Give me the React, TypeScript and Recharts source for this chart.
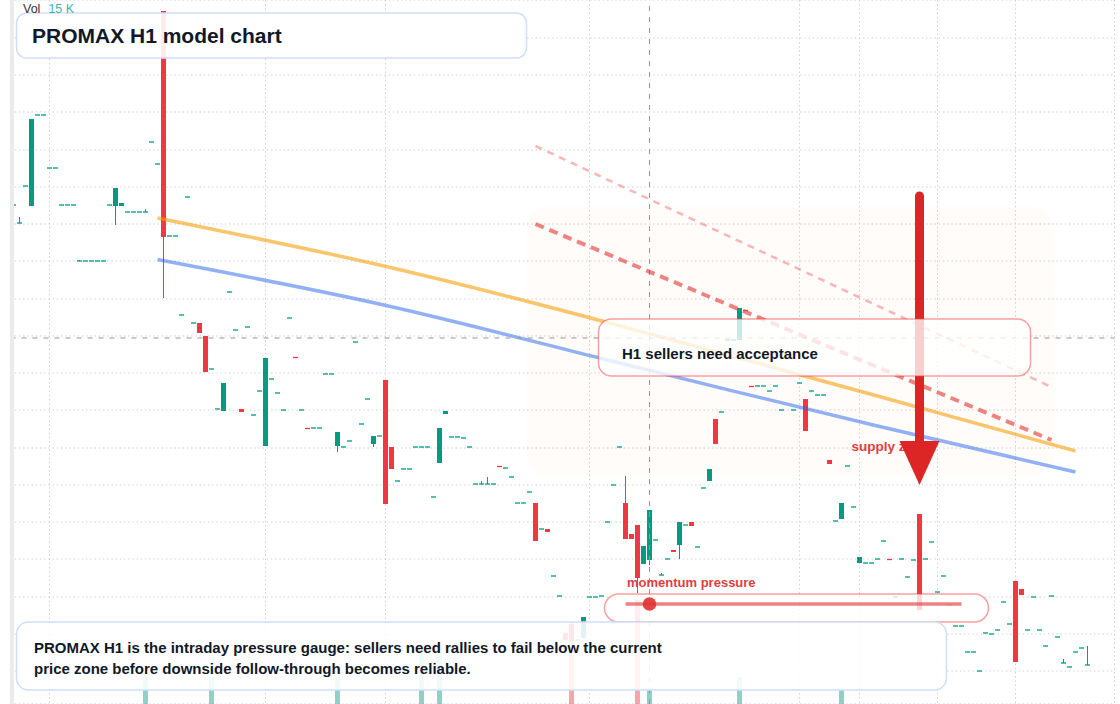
import React from "react";
import {
  ComposedChart, Bar, Line, XAxis, YAxis, CartesianGrid,
  ReferenceLine, ReferenceArea, ReferenceDot,
} from "recharts";

const UP = "#089981";
const DOWN = "#f23645";
const FONT = '"Liberation Sans", Arial, sans-serif';

// H1 candles, oldest first. null = no print in that slot
const open = [
  14.99, 14.81, 15.18, 14.98, 15.89, 15.89, 15.36, 15.36, 14.99, 14.99,
  14.99, 14.43, 14.43, 14.43, 14.43, 14.43, 14.99, 14.98, 14.98, 14.92,
  14.92, 14.92, 14.92, 15.62, 15.40, 16.93, 14.68, 14.68, 13.89, 15.07,
  13.81, 13.81, 13.68, 13.35, 12.95, 12.93, 14.12, 13.74, 12.95, 13.77,
  12.89, 13.13, 12.58, 13.25, 13.11, 12.94, 13.86, 13.47, 12.94, 12.76,
  12.76, 12.76, 13.30, 13.30, 12.58, 12.57, 12.63, 13.62, 12.80, 13.05,
  12.60, 12.68, 13.24, 12.57, 12.23, 12.35, 12.35, 12.57, 12.57, 12.57,
  12.07, 12.41, 12.90, 12.67, 12.67, 12.66, 12.57, 12.20, 12.20, 12.20,
  12.20, 12.38, 12.36, 12.27, 12.01, 12.01, 12.12, 12.01, 11.75, 11.75,
  11.28, 11.08, 10.71, 10.80, 10.64, 10.66, 11.07, 11.07, 11.08, 11.82,
  12.19, 12.57, 12.01, 11.70, 11.79, 11.40, 11.44, 11.64, 11.29, 11.45,
  11.54, 11.59, 11.79, 11.82, 11.57, 12.16, 12.23, 12.85, 12.92, 13.64,
  13.64, 13.64, 13.94, 13.18, 13.18, 13.18, 13.13, 13.18, 12.94, null,
  12.94, 13.21, 13.05, 13.13, 13.09, 13.09, 12.44, 11.83, 11.85, 12.38,
  11.97, 11.41, 11.41, 11.41, 11.45, 11.63, 11.45, 11.07, 11.45, 11.27,
  11.44, 11.90, 11.45, 11.62, 11.12, 11.28, 10.99, 10.78, 10.78, 10.52,
  10.52, 10.33, 10.71, 10.70, 10.74, 11.02, 10.80, 11.23, 11.15, 10.74,
  11.07, 10.74, 10.58, 11.08, 10.67, 10.41, 10.37, 10.52, 10.56, 10.39,
];
const high = [
  14.99, 14.87, 15.18, 15.85, 15.89, 15.89, 15.36, 15.36, 14.99, 14.99,
  14.99, 14.44, 14.43, 14.43, 14.43, 14.43, 14.99, 15.16, 15.01, 14.92,
  14.92, 14.92, 14.95, 15.62, 15.40, 16.93, 14.68, 14.68, 13.89, 15.07,
  13.81, 13.81, 13.68, 13.35, 12.95, 13.21, 14.12, 13.74, 12.95, 13.77,
  12.89, 13.13, 13.46, 13.25, 13.11, 12.94, 13.86, 13.47, 12.94, 12.76,
  12.76, 12.76, 13.30, 13.30, 12.72, 12.57, 12.63, 13.62, 12.80, 13.05,
  12.68, 12.68, 13.24, 12.57, 12.23, 12.35, 12.35, 12.57, 12.57, 12.57,
  12.07, 12.76, 12.93, 12.67, 12.67, 12.66, 12.57, 12.20, 12.23, 12.27,
  12.20, 12.38, 12.36, 12.27, 12.01, 12.01, 12.12, 12.01, 11.75, 11.75,
  11.28, 11.08, 10.71, 10.80, 10.64, 10.87, 11.07, 11.07, 11.08, 11.82,
  12.19, 12.57, 12.28, 11.70, 11.79, 11.58, 11.94, 11.64, 11.31, 11.45,
  11.54, 11.82, 11.79, 11.82, 11.57, 12.16, 12.35, 12.85, 12.92, 13.64,
  13.64, 13.96, 13.94, 13.18, 13.18, 13.18, 13.13, 13.18, 12.94, null,
  12.94, 13.21, 13.05, 13.13, 13.09, 13.09, 12.44, 11.83, 12.01, 12.38,
  11.97, 11.47, 11.41, 11.41, 11.45, 11.63, 11.45, 11.07, 11.45, 11.27,
  11.44, 11.90, 11.45, 11.62, 11.12, 11.28, 10.99, 10.78, 10.78, 10.52,
  10.52, 10.33, 10.71, 10.70, 10.74, 11.02, 10.80, 11.23, 11.15, 10.74,
  11.07, 10.74, 10.58, 11.08, 10.67, 10.45, 10.37, 10.52, 10.56, 10.58,
];
const low = [
  14.99, 14.81, 15.18, 14.98, 15.89, 15.89, 15.36, 15.36, 14.99, 14.99,
  14.99, 14.43, 14.43, 14.43, 14.43, 14.43, 14.99, 14.79, 14.98, 14.92,
  14.92, 14.92, 14.92, 15.62, 15.40, 14.06, 14.68, 14.68, 13.89, 15.07,
  13.81, 13.71, 13.32, 13.35, 12.95, 12.93, 14.12, 13.74, 12.92, 13.77,
  12.89, 13.13, 12.58, 13.25, 13.11, 12.94, 13.86, 13.46, 12.94, 12.75,
  12.76, 12.76, 13.30, 13.30, 12.52, 12.57, 12.63, 13.62, 12.80, 13.05,
  12.57, 12.68, 12.00, 12.35, 12.23, 12.35, 12.35, 12.57, 12.57, 12.57,
  12.07, 12.41, 12.90, 12.67, 12.67, 12.66, 12.57, 12.20, 12.20, 12.20,
  12.20, 12.37, 12.36, 12.27, 12.01, 12.01, 12.12, 11.63, 11.75, 11.72,
  11.28, 11.08, 10.64, 10.63, 10.64, 10.66, 11.07, 11.07, 11.08, 11.82,
  12.19, 12.57, 11.65, 11.65, 11.11, 11.40, 11.39, 11.64, 11.29, 11.45,
  11.52, 11.45, 11.79, 11.78, 11.57, 12.16, 12.23, 12.60, 12.92, 13.64,
  13.64, 13.64, 13.93, 13.17, 13.18, 13.18, 13.13, 13.18, 12.94, null,
  12.94, 13.21, 12.73, 13.13, 13.09, 13.09, 12.40, 11.83, 11.85, 12.38,
  11.97, 11.41, 11.41, 11.41, 11.45, 11.63, 11.44, 11.07, 11.45, 11.27,
  11.44, 10.94, 11.45, 11.62, 11.12, 11.28, 10.99, 10.78, 10.78, 10.52,
  10.52, 10.33, 10.71, 10.70, 10.74, 11.02, 10.80, 10.42, 11.09, 10.74,
  11.07, 10.74, 10.58, 11.08, 10.67, 10.41, 10.37, 10.52, 10.56, 10.39,
];
const close = [
  14.99, 14.81, 15.18, 15.85, 15.89, 15.89, 15.36, 15.36, 14.99, 14.99,
  14.99, 14.43, 14.43, 14.43, 14.43, 14.43, 14.99, 15.16, 15.01, 14.92,
  14.92, 14.92, 14.92, 15.62, 15.40, 14.67, 14.68, 14.68, 13.89, 15.07,
  13.81, 13.71, 13.32, 13.35, 12.95, 13.21, 14.12, 13.74, 12.92, 13.77,
  12.89, 13.13, 13.46, 13.25, 13.11, 12.94, 13.86, 13.46, 12.94, 12.75,
  12.76, 12.76, 13.30, 13.30, 12.72, 12.57, 12.63, 13.62, 12.80, 13.05,
  12.68, 12.68, 12.00, 12.35, 12.23, 12.35, 12.35, 12.57, 12.57, 12.57,
  12.07, 12.76, 12.93, 12.67, 12.67, 12.66, 12.57, 12.20, 12.20, 12.20,
  12.20, 12.37, 12.36, 12.27, 12.01, 12.01, 12.12, 11.63, 11.75, 11.72,
  11.28, 11.08, 10.64, 10.63, 10.64, 10.87, 11.07, 11.07, 11.08, 11.82,
  12.19, 12.57, 11.65, 11.65, 11.26, 11.58, 11.94, 11.64, 11.29, 11.45,
  11.52, 11.82, 11.79, 11.78, 11.57, 12.16, 12.35, 12.60, 12.92, 13.64,
  13.64, 13.96, 13.93, 13.17, 13.18, 13.18, 13.13, 13.18, 12.94, null,
  12.94, 13.21, 12.73, 13.13, 13.09, 13.09, 12.40, 11.83, 12.01, 12.38,
  11.97, 11.47, 11.41, 11.41, 11.45, 11.63, 11.44, 11.07, 11.45, 11.27,
  11.44, 10.94, 11.45, 11.62, 11.12, 11.28, 10.99, 10.78, 10.78, 10.52,
  10.52, 10.33, 10.71, 10.70, 10.74, 11.02, 10.80, 10.42, 11.09, 10.74,
  11.07, 10.74, 10.58, 11.08, 10.67, 10.41, 10.37, 10.52, 10.56, 10.39,
];

// volume in K, only the bars tall enough to show in the pane
const volumeAt = [22, 33, 54, 68, 71, 93, 104, 106, 121, 138];
const volumeK = [32, 27, 27, 54, 51, 82, 104, 15, 27, 15];

// model lines (orange = fast, blue = slow), anchor points off the chart
const fastAt = [24, 61, 99, 144, 177];
const fastLine = [14.86, 14.39, 13.815, 13.08, 12.53];
const slowAt = [24, 61, 98, 144, 177];
const slowLine = [14.445, 14.0, 13.455, 12.78, 12.32];

const priceLevels = [
  17.03, 16.66, 16.29, 15.92, 15.54, 15.17, 14.8, 14.43, 14.05, 13.68,
  13.31, 12.94, 12.56, 12.19, 11.82, 11.45, 11.07, 10.7, 10.33,
];
const sessionBreaks = [6, 42, 62, 96, 131, 141, 154, 167];

const SLOTS = 184;
const CROSS_BAR = 106;
const CROSS_PRICE = 13.66;

const data = Array.from({ length: SLOTS }, (_, i) => {
  const has = i < open.length && open[i] != null;
  const v = volumeAt.indexOf(i);
  const f = fastAt.indexOf(i);
  const s = slowAt.indexOf(i);
  return {
    i,
    open: has ? open[i] : null,
    high: has ? high[i] : null,
    low: has ? low[i] : null,
    close: has ? close[i] : null,
    vol: v >= 0 ? volumeK[v] : null,
    fast: f >= 0 ? fastLine[f] : null,
    slow: s >= 0 ? slowLine[s] : null,
  };
});

const Candle = (props: any) => {
  const { x, y, width, height, payload } = props;
  if (!payload || payload.high == null) return null;
  const { open: o, close: c, high: h, low: l } = payload;
  const top = Math.min(y, y + height);
  const bottom = Math.max(y, y + height);
  const span = h - l;
  const py = (v: number) => (span > 0 ? top + ((h - v) / span) * (bottom - top) : top);
  const cx = x + width / 2;
  const color = c >= o ? UP : DOWN;
  const yo = py(o);
  const yc = py(c);
  let bTop = Math.min(yo, yc);
  let bH = Math.abs(yo - yc);
  if (bH < 1.3) {
    bTop = (yo + yc) / 2 - 0.65;
    bH = 1.3;
  }
  return (
    <g>
      {span > 0 && <line x1={cx} x2={cx} y1={top} y2={bottom} stroke={color} strokeWidth={1} />}
      <rect x={cx - 2.5} y={bTop} width={5} height={bH} fill={color} />
    </g>
  );
};

const VolumeBar = (props: any) => {
  const { x, y, width, height, payload } = props;
  if (!payload || payload.vol == null || !height) return null;
  const color = payload.close >= payload.open ? UP : DOWN;
  return (
    <rect x={x + width / 2 - 2.5} y={Math.min(y, y + height)} width={5}
      height={Math.abs(height)} fill={color} fillOpacity={0.45} />
  );
};

const box = (r: number, fillOpacity: number, stroke: string, strokeOpacity: number) => (p: any) => (
  <rect x={p.x} y={p.y} width={p.width} height={p.height} rx={r} ry={r}
    fill="#ffffff" fillOpacity={fillOpacity} stroke={stroke}
    strokeOpacity={strokeOpacity} strokeWidth={1.5} />
);

const zoneShape = (p: any) => (
  <rect x={p.x} y={p.y} width={p.width} height={p.height} rx={22} ry={22}
    fill="#fb923c" fillOpacity={0.026} />
);

const arrowHead = (p: any) => (
  <polygon points={`${p.cx - 20},${p.cy} ${p.cx + 20},${p.cy} ${p.cx},${p.cy + 44}`} fill="#dc2626" />
);

const supplyLabel = (p: any) => (
  <text x={p.cx - 2} y={p.cy} fill="#e03e3e" fontSize={13.5} fontWeight={700} fontFamily={FONT}>
    supply zone
  </text>
);

const App = () => {
  return (
    <div style={{ position: "absolute", left: 0, top: 0, width: 1120, height: 704, background: "#fff", overflow: "hidden", fontFamily: FONT }}>
      <ComposedChart width={1120} height={704} data={data}
        margin={{ top: 0, right: 5.5, bottom: 0, left: 10.5 }}
        barCategoryGap={0} barGap={0}>
        <XAxis xAxisId="p" dataKey="i" type="category" hide ticks={sessionBreaks} interval={0} />
        <XAxis xAxisId="v" dataKey="i" type="category" hide />
        <YAxis yAxisId="p" hide type="number" domain={[10, 17.04]} ticks={priceLevels} allowDataOverflow />
        <YAxis yAxisId="v" hide type="number" domain={[0, 704]} allowDataOverflow />
        <CartesianGrid xAxisId="p" yAxisId="p" stroke="#cdd1d6" strokeDasharray="1.5 2.7" />

        {/* faint supply zone */}
        <ReferenceArea xAxisId="p" yAxisId="p" x1={86} x2={173} y1={12.28} y2={14.97}
          shape={zoneShape} zIndex={50} />

        <Bar xAxisId="v" yAxisId="v" dataKey="vol" shape={VolumeBar}
          isAnimationActive={false} zIndex={100} />
        <Bar xAxisId="p" yAxisId="p" dataKey={(d: any) => (d.high == null ? null : [d.low, d.high])}
          shape={Candle} isAnimationActive={false} zIndex={300} />

        <Line xAxisId="p" yAxisId="p" dataKey="fast" type="natural" connectNulls dot={false}
          stroke="#f59e0b" strokeOpacity={0.6} strokeWidth={3.5} isAnimationActive={false} zIndex={400} />
        <Line xAxisId="p" yAxisId="p" dataKey="slow" type="natural" connectNulls dot={false}
          stroke="#2563eb" strokeOpacity={0.5} strokeWidth={3.5} isAnimationActive={false} zIndex={400} />

        {/* crosshair */}
        <ReferenceLine xAxisId="p" yAxisId="p" x={CROSS_BAR} stroke="#959595" strokeDasharray="5 6" zIndex={450} />
        <ReferenceLine xAxisId="p" yAxisId="p" y={CROSS_PRICE} stroke="#959595" strokeDasharray="5 6" zIndex={450} />

        {/* descending guide lines */}
        <ReferenceLine xAxisId="p" yAxisId="p" segment={[{ x: 87, y: 15.58 }, { x: 173, y: 13.17 }]}
          stroke="#ef4444" strokeOpacity={0.38} strokeWidth={2.5} strokeDasharray="7 6" zIndex={500} />
        <ReferenceLine xAxisId="p" yAxisId="p" segment={[{ x: 87, y: 14.8 }, { x: 173, y: 12.64 }]}
          stroke="#e53935" strokeOpacity={0.62} strokeWidth={4} strokeDasharray="9 6" zIndex={500} />

        <ReferenceDot xAxisId="p" yAxisId="p" x={140} y={12.53} r={0} shape={supplyLabel} zIndex={550} />

        {/* sell arrow */}
        <ReferenceLine xAxisId="p" yAxisId="p" segment={[{ x: 151, y: 15.08 }, { x: 151, y: 12.59 }]}
          stroke="#dc2626" strokeWidth={9} strokeLinecap="round" zIndex={600} />
        <ReferenceDot xAxisId="p" yAxisId="p" x={151} y={12.63} r={20} shape={arrowHead} zIndex={610} />

        {/* annotation boxes */}
        <ReferenceArea xAxisId="p" yAxisId="p" x1={1} x2={85} y1={16.46} y2={16.91}
          shape={box(10, 0.9, "#cfdff8", 1)} zIndex={700} />
        <ReferenceArea xAxisId="p" yAxisId="p" x1={98} x2={169} y1={13.28} y2={13.85}
          shape={box(13, 0.78, "#ef4444", 0.5)} zIndex={700} />
        <ReferenceArea xAxisId="p" yAxisId="p" x1={99} x2={162} y1={10.82} y2={11.1}
          shape={box(14, 0.8, "#ef4444", 0.5)} zIndex={700} />
        <ReferenceArea xAxisId="p" yAxisId="p" x1={1} x2={155} y1={10.14} y2={10.82}
          shape={box(12, 0.88, "#cfdff8", 1)} zIndex={700} />

        {/* momentum gauge */}
        <ReferenceLine xAxisId="p" yAxisId="p" segment={[{ x: 102, y: 11.0 }, { x: 158, y: 11.0 }]}
          stroke="#e53e3e" strokeOpacity={0.65} strokeWidth={3.5} zIndex={750} />
        <ReferenceDot xAxisId="p" yAxisId="p" x={CROSS_BAR} y={11.0} r={6.8}
          fill="#e03131" fillOpacity={0.9} stroke="none" zIndex={760} />
      </ComposedChart>

      {/* left scale edge */}
      <div style={{ position: "absolute", left: 10, top: 0, width: 4, height: 704, background: "#ebebeb" }} />

      <div style={{ position: "absolute", left: 23, top: 1.5, fontSize: 12.5, lineHeight: "14px", whiteSpace: "nowrap" }}>
        <span style={{ color: "#333" }}>Vol</span>
        <span style={{ color: "#45b5a2", marginLeft: 8 }}>15 K</span>
      </div>

      <div style={{ position: "absolute", left: 32, top: 24, fontSize: 21, lineHeight: "24px", fontWeight: 700, color: "#111827", whiteSpace: "nowrap" }}>
        PROMAX H1 model chart
      </div>

      <div style={{ position: "absolute", left: 622, top: 345, fontSize: 15, lineHeight: "18px", fontWeight: 700, color: "#111827", whiteSpace: "nowrap" }}>
        H1 sellers need acceptance
      </div>

      <div style={{ position: "absolute", left: 627, top: 574.5, fontSize: 13, lineHeight: "16px", fontWeight: 700, color: "#e03e3e", whiteSpace: "nowrap" }}>
        momentum pressure
      </div>

      <div style={{ position: "absolute", left: 34, top: 636.5, fontSize: 15, lineHeight: "21px", fontWeight: 700, color: "#111827", whiteSpace: "nowrap" }}>
        PROMAX H1 is the intraday pressure gauge: sellers need rallies to fail below the current
        <br />
        price zone before downside follow-through becomes reliable.
      </div>
    </div>
  );
};

export default App;
